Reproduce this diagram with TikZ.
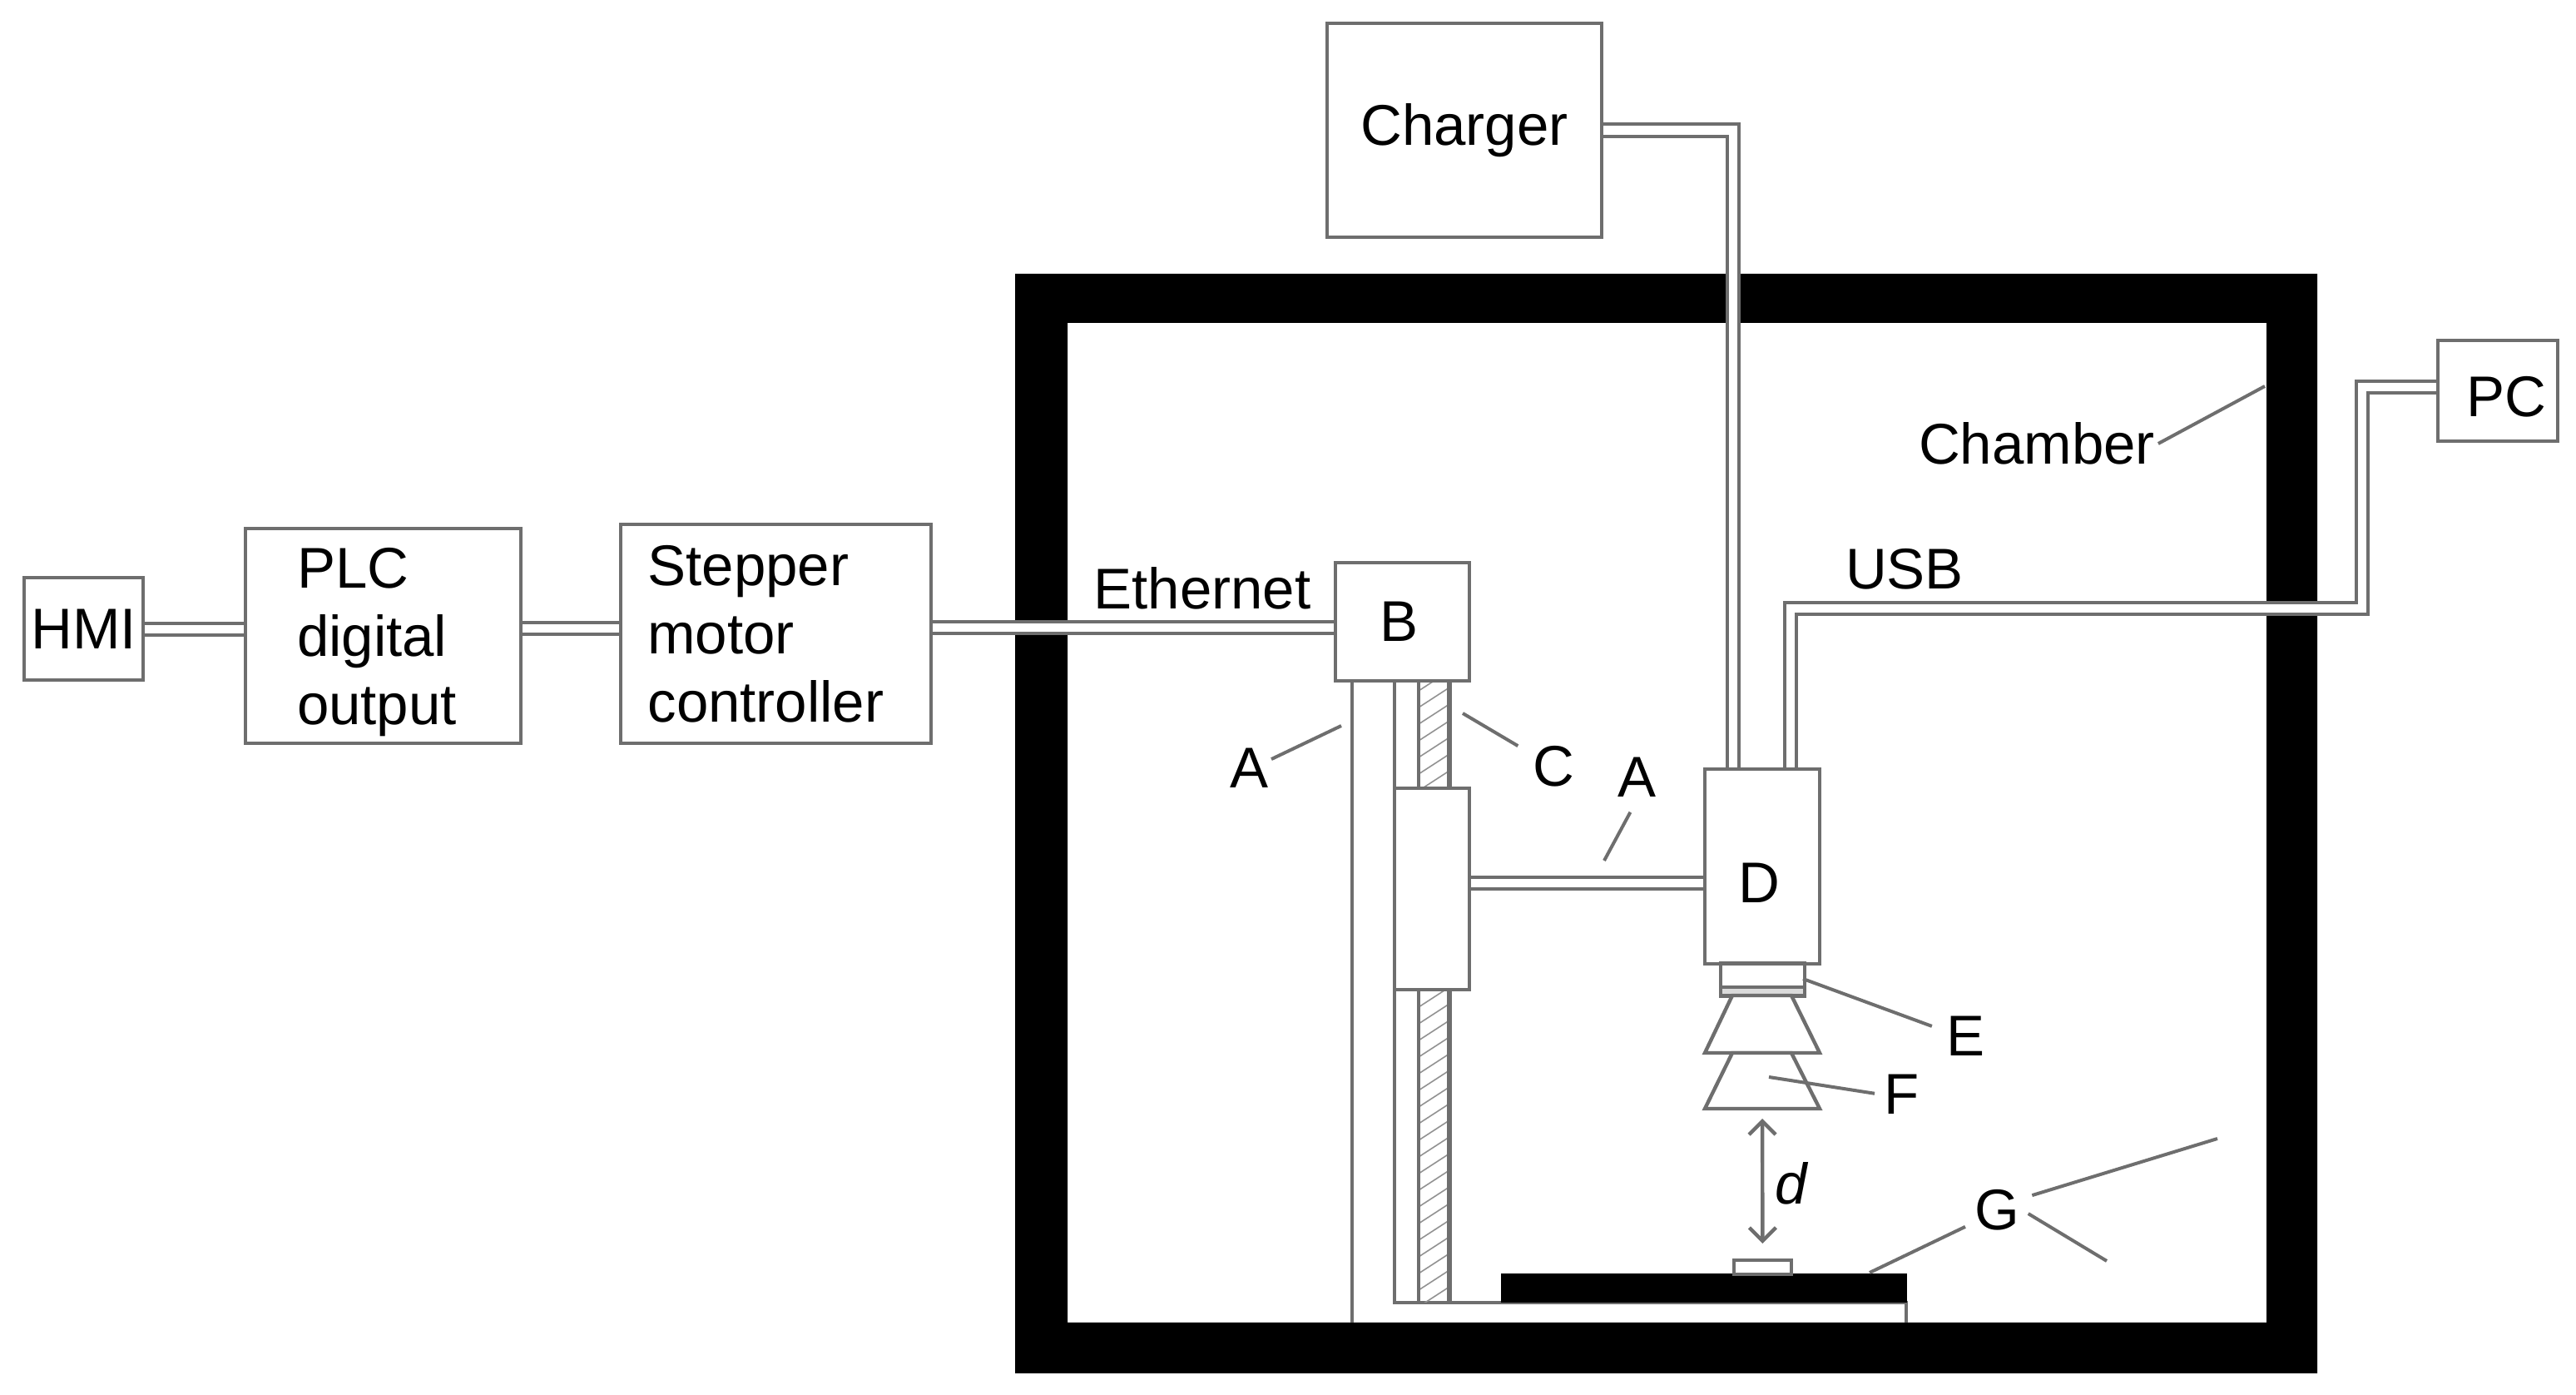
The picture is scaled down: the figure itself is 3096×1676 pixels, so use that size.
\documentclass[tikz,border=0pt]{standalone}
\usepackage{fontspec}
\setmainfont{Liberation Sans}
\usetikzlibrary{arrows.meta}
\definecolor{linegray}{RGB}{110,110,110}
\tikzset{
  box/.style={draw=linegray,line width=1.1pt,fill=white,inner sep=0pt,outer sep=0pt},
  wire/.style={draw=linegray,line width=1pt,double=white,double distance=2.6pt,shorten <=0.55pt,shorten >=0.55pt},
  leader/.style={draw=linegray,line width=1pt},
  plain/.style={draw=linegray,line width=1.1pt},
  lbl/.style={inner sep=1pt,outer sep=0pt},
}
\begin{document}
\begin{tikzpicture}[x=0.25pt,y=0.25pt,yscale=-1,xscale=1,font=\fontsize{17.25}{20.5}\selectfont]
\useasboundingbox (0,0) rectangle (3096,1676);

%Shape: Chamber
\fill[black,even odd rule] (1220,329) rectangle (2785,1650) (1283,388) rectangle (2724,1589);

%Shape: Column and base
\draw[plain] (1625,818) -- (1625,1589);
\draw[plain] (1676,818) -- (1676,1565) -- (2291,1565) -- (2291,1589);
%Shape: Lead screw
\begin{scope}
\clip (1705,818) rectangle (1742,1565);
\foreach \y in {810,830,...,1610}
  \draw[linegray!75,line width=0.4pt] (1705,\y) -- (1742,\y-24);
\end{scope}
\draw[plain] (1705,818) -- (1705,1565);
\draw[plain,line width=1.4pt] (1742,818) -- (1742,1565);

%Shape: Plate
\fill[black] (1804,1530) rectangle (2292,1565);

% Boxes
\node[box,minimum width=35.75pt,minimum height=30.75pt] (hmi) at (100.5,755.5) {HMI};
\node[box,minimum width=82.75pt,minimum height=64.5pt,text width=51.75pt,align=left] (plc) at (460.5,764) {\rule{0pt}{15.8pt}PLC\\digital\\output};
\node[box,minimum width=93.25pt,minimum height=65.75pt,text width=77pt,align=left] (stepper) at (932.5,761.5) {Stepper\\motor\\controller};
\node[box,minimum width=82.5pt,minimum height=64.25pt] (charger) at (1760,156.5) {Charger};
\node[box,minimum width=36pt,minimum height=30.25pt] (pc) at (3002,469.5) {};
\node[box,minimum width=40.25pt,minimum height=35.5pt] (b) at (1685.5,747) {};
\node[box,minimum width=22.5pt,minimum height=60.5pt] (carriage) at (1721,1068) {};
\node[box,minimum width=34.5pt,minimum height=58.5pt] (d) at (2118,1041) {};
\node[box,minimum width=17.25pt,minimum height=4.25pt] (sample) at (2118.5,1522.5) {};

%Shape: Lens ring
\node[box,minimum width=25.25pt,minimum height=9.75pt] (ring) at (2118.5,1177) {};
\draw[plain,fill=linegray!25] (ring.west |- 0,1186) rectangle (ring.south east);
%Shape: Lens cones
\draw[plain,fill=white] (2082,1196) -- (2153,1196) -- (2187,1265) -- (2049,1265) -- cycle;
\draw[plain,fill=white] (2082,1265) -- (2153,1265) -- (2187,1332) -- (2049,1332) -- cycle;

% Wires
\coordinate (hmiwire) at (172,756);
\coordinate (plcwire) at (626,755);
\coordinate (ethwire) at (1119,754);
\coordinate (armwire) at (1766,1061);
\coordinate (dcharge) at (2083,924);
\coordinate (dusb) at (2152,924);
\coordinate (usbturn) at (2839,731);
\coordinate (pcwire) at (2930,465);
\draw[wire] (hmi.east |- hmiwire) -- (plc.west |- hmiwire);
\draw[wire] (plc.east |- plcwire) -- (stepper.west |- plcwire);
\draw[wire] (stepper.east |- ethwire) -- (b.west |- ethwire);
\draw[wire] (carriage.east |- armwire) -- (d.west |- armwire);
\draw[wire] (charger.east) -| (dcharge);
\draw[wire] (dusb) |- (usbturn) |- (pcwire);

% Text Node
\node[lbl] (labelpc) at (3012,477) {PC};
\node[lbl] (labelb) at (1681.5,747) {B};
\node[lbl] (labeld) at (2114,1061) {D};
\node[lbl] (ethernet) at (1445,707) {Ethernet};
\node[lbl] (usb) at (2289,684) {USB};
\node[lbl] (chamber) at (2448,533) {Chamber};
\node[lbl] (labela) at (1501,923) {A};
\node[lbl] (labelc) at (1867,921) {C};
\node[lbl] (labelaa) at (1967,934) {A};
\node[lbl] (labele) at (2362,1245) {E};
\node[lbl] (labelf) at (2286,1315) {F};
\node[lbl] (labelg) at (2400,1454) {G};
\node[lbl] (labeldist) at (2153,1422) {\itshape d};

% Leaders
\coordinate (wallpt) at (2722,464);
\coordinate (columnpt) at (1612,872);
\coordinate (screwpt) at (1758,857);
\coordinate (armpt) at (1928,1034);
\coordinate (ringpt) at (2167,1176);
\coordinate (conept) at (2126,1294);
\coordinate (platept) at (2247,1529);
\coordinate (stray1) at (2665,1368);
\coordinate (stray2) at (2532,1515);
\draw[leader] (chamber.east) -- (wallpt);
\draw[leader] (labela.22) -- (columnpt);
\draw[leader,shorten <=4pt] (labelc.150) -- (screwpt);
\draw[leader,shorten <=4pt] (labelaa.south) -- (armpt);
\draw[leader,shorten <=3.5pt] (labele.165) -- (ringpt);
\draw[leader,shorten <=2pt] (labelf.180) -- (conept);
\draw[leader,shorten <=2pt] (labelg.208) -- (platept);
\draw[leader,shorten <=3pt] (labelg.25) -- (stray1);
\draw[leader,shorten <=2pt] (labelg.east) -- (stray2);

% Distance arrow
\coordinate (conebottom) at (2118,1332);
\draw[linegray,line width=1.1pt,{Straight Barb[length=4pt,width=8pt]}-{Straight Barb[length=4pt,width=8pt]},shorten <=3pt,shorten >=5pt] (conebottom) -- (sample.north);

\end{tikzpicture}
\end{document}
